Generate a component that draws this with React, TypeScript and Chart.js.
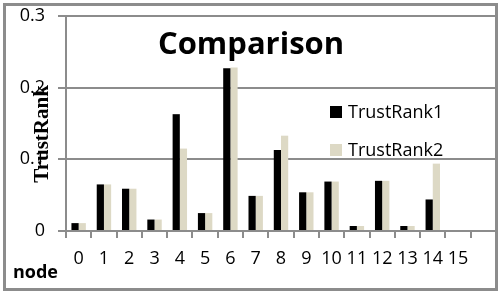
import React, { useEffect, useRef } from "react";
import { Chart, registerables } from "chart.js";

Chart.register(...registerables);

const categories = ["0", "1", "2", "3", "4", "5", "6", "7", "8", "9", "10", "11", "12", "13", "14", "15", ""];
const trustRank1 = [0.011, 0.065, 0.059, 0.016, 0.163, 0.025, 0.227, 0.049, 0.113, 0.054, 0.069, 0.007, 0.07, 0.007, 0.044, 0, null];
const trustRank2 = [0.011, 0.065, 0.059, 0.016, 0.115, 0.025, 0.228, 0.049, 0.133, 0.054, 0.069, 0.007, 0.07, 0.007, 0.094, 0, null];
const yTicks = [0, 0.1, 0.2, 0.3];
const seriesNames = ["TrustRank1", "TrustRank2"];
const titleText = "Comparison";
const yTitleText = "TrustRank";
const xTitleText = "node";

const SANS = "'Open Sans', 'Noto Sans', sans-serif";
const GRID = "#8c8c8c";

const decor = {
  id: "decor",
  beforeDraw(chart: any) {
    const ctx = chart.ctx;
    ctx.save();
    ctx.strokeStyle = GRID;
    ctx.lineWidth = 3;
    ctx.strokeRect(4.5, 4.5, 492, 285);
    ctx.restore();
  },
  afterDraw(chart: any) {
    const ctx = chart.ctx;
    const a = chart.chartArea;
    ctx.save();
    // title
    ctx.fillStyle = "#000";
    ctx.textAlign = "center";
    ctx.textBaseline = "middle";
    ctx.font = `bold 31px ${SANS}`;
    ctx.fillText(titleText, 251, 45);
    // y title
    ctx.save();
    ctx.translate(a.left - 23, 134);
    ctx.rotate(-Math.PI / 2);
    ctx.font = "bold 21px 'Liberation Serif', 'DejaVu Serif', serif";
    ctx.fillText(yTitleText, 0, 0);
    ctx.restore();
    // x title
    ctx.textAlign = "left";
    ctx.font = `bold 18px ${SANS}`;
    ctx.fillText(xTitleText, 13, 273);
    // legend
    ctx.font = `18px ${SANS}`;
    chart.data.datasets.forEach((ds: any, i: number) => {
      const y = 112 + i * 38;
      ctx.fillStyle = ds.backgroundColor;
      ctx.fillRect(330, y - 6, 12, 12);
      ctx.fillStyle = "#000";
      ctx.fillText(ds.label, 348, y + 1);
    });
    ctx.restore();
  },
};

export default function App() {
  const ref = useRef<HTMLCanvasElement>(null);
  useEffect(() => {
    document.body.style.margin = "0";
    const chart = new Chart(ref.current!, {
      type: "bar",
      data: {
        labels: categories,
        datasets: [
          { label: seriesNames[0], data: trustRank1, backgroundColor: "#000000" },
          { label: seriesNames[1], data: trustRank2, backgroundColor: "#ddd9c5" },
        ],
      },
      options: {
        responsive: false,
        animation: false,
        layout: { padding: { left: 0, right: 8, top: 16, bottom: 0 } },
        datasets: { bar: { categoryPercentage: 0.57, barPercentage: 1 } },
        plugins: { legend: { display: false }, title: { display: false }, tooltip: { enabled: false } },
        scales: {
          x: {
            afterFit: (s: any) => { s.height = 69; s.paddingLeft = 0; s.paddingRight = 0; },
            grid: { offset: true, drawOnChartArea: false, drawTicks: true, tickLength: 7, color: GRID, lineWidth: 2 },
            border: { color: GRID, width: 2 },
            ticks: { color: "#000", font: { family: SANS, size: 18 }, padding: 10, maxRotation: 0, autoSkip: false },
          },
          y: {
            min: 0,
            max: 0.3,
            afterFit: (s: any) => { s.width = 66; s.paddingTop = 0; s.paddingBottom = 0; },
            afterBuildTicks: (s: any) => { s.ticks = yTicks.map((v) => ({ value: v })); },
            grid: { color: GRID, lineWidth: 2, tickLength: 8 },
            border: { color: GRID, width: 2 },
            ticks: {
              color: "#000",
              font: { family: SANS, size: 18 },
              padding: 13,
              callback: (v: any) => String(Math.round(Number(v) * 10) / 10),
            },
          },
        },
      },
      plugins: [decor],
    });
    return () => chart.destroy();
  }, []);
  return <canvas ref={ref} width={504} height={300} style={{ display: "block" }} />;
}
